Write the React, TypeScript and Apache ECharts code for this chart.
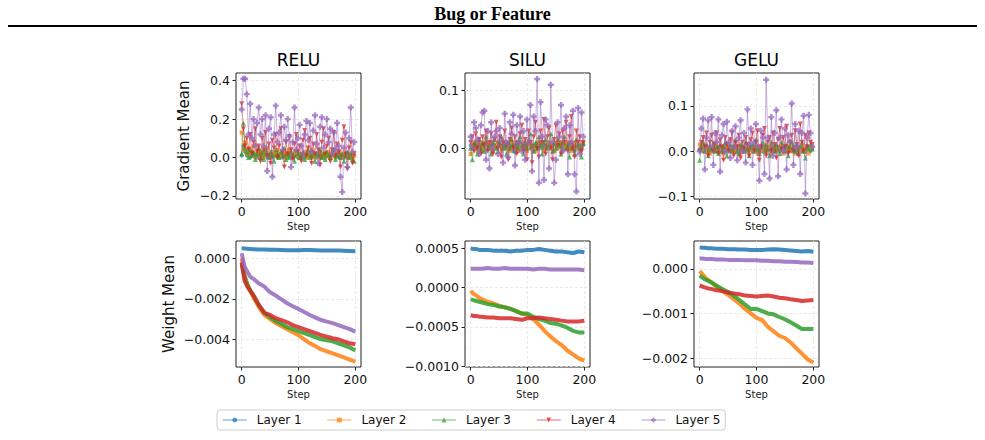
import React, { useEffect, useRef } from "react";
import * as echarts from "echarts";

const COLORS = ["#1f77b4", "#ff7f0e", "#2ca02c", "#d62728", "#9467bd"];
const LAYERS = ["Layer 1", "Layer 2", "Layer 3", "Layer 4", "Layer 5"];
const ACTIVATIONS = ["RELU", "SILU", "GELU"];
const X_TICKS = [0, 100, 200];

// gradient means, sampled every 3 steps (0..198)
const GRAD_STEPS = Array.from({ length: 67 }, (_, i) => i * 3);

const RELU_GRAD_L1 = [
  0.01, 0.06, 0.03, 0.01, 0.02, 0.0, 0.01, 0.02, 0.01, 0.0,
  0.02, 0.01, 0.0, 0.01, 0.02, 0.0, 0.01, 0.01, 0.0, 0.02,
  0.01, 0.0, 0.01, 0.02, 0.0, 0.01, 0.01, 0.0, 0.02, 0.01,
  0.0, 0.01, 0.01, 0.0, 0.02, 0.01, 0.0, 0.01, 0.0, 0.01,
  0.02, 0.0, 0.01, 0.01, 0.0, 0.01, 0.02, 0.0, 0.01, 0.0,
  0.01, 0.01, 0.0, 0.02, 0.01, 0.0, 0.01, 0.0, 0.01, 0.01,
  0.0, 0.02, 0.01, 0.0, 0.01, 0.0, 0.01,
];
const RELU_GRAD_L2 = [
  0.13, 0.04, 0.08, 0.02, 0.05, 0.01, 0.03, 0.06, 0.0, 0.02,
  0.04, 0.01, 0.03, 0.0, 0.02, 0.05, 0.01, 0.0, 0.03, 0.02,
  0.01, 0.04, 0.0, 0.02, 0.01, 0.03, 0.0, 0.02, 0.04, 0.01,
  0.0, 0.02, 0.03, 0.01, 0.0, 0.02, 0.01, 0.03, 0.0, 0.02,
  0.01, 0.04, 0.0, 0.01, 0.02, 0.0, 0.03, 0.01, 0.02, 0.0,
  0.01, 0.03, 0.0, 0.02, 0.01, 0.0, 0.02, 0.03, 0.01, 0.0,
  0.02, 0.01, 0.0, 0.02, 0.01, 0.0, 0.01,
];
const RELU_GRAD_L3 = [
  0.02, 0.18, 0.05, 0.03, 0.0, 0.04, 0.01, 0.03, -0.01, 0.02,
  0.05, 0.0, 0.03, -0.01, 0.04, 0.02, 0.0, 0.03, 0.01, -0.02,
  0.04, 0.02, 0.0, 0.03, 0.01, 0.05, -0.01, 0.02, 0.0, 0.03,
  0.01, -0.02, 0.04, 0.02, 0.0, 0.01, 0.03, -0.01, 0.02, 0.04,
  0.0, 0.01, 0.03, -0.02, 0.02, 0.01, 0.04, 0.0, 0.02, -0.01,
  0.03, 0.01, 0.0, 0.02, 0.04, -0.01, 0.01, 0.03, 0.0, 0.02,
  -0.02, 0.01, 0.03, 0.0, 0.02, -0.01, -0.02,
];
const RELU_GRAD_L4 = [
  0.28, 0.15, 0.06, 0.1, 0.04, 0.12, 0.02, 0.08, 0.15, 0.03,
  0.06, -0.02, 0.1, 0.04, 0.13, 0.01, 0.07, -0.03, 0.09, 0.05,
  0.12, 0.0, 0.06, 0.15, 0.03, -0.05, 0.08, 0.02, 0.11, 0.04,
  -0.01, 0.07, 0.12, 0.03, 0.06, -0.02, 0.09, 0.14, 0.01, 0.05,
  0.1, -0.03, 0.07, 0.02, 0.12, 0.04, -0.04, 0.08, 0.15, 0.02,
  0.06, 0.1, -0.02, 0.04, 0.13, 0.01, 0.07, 0.03, -0.05, 0.09,
  0.16, 0.02, -0.06, 0.05, 0.08, -0.03, 0.02,
];
const RELU_GRAD_L5 = [
  0.25, 0.41, 0.41, 0.33, 0.12, 0.28, 0.1, 0.2, 0.06, 0.18,
  0.26, 0.12, 0.2, 0.06, 0.22, -0.07, 0.15, 0.21, -0.1, 0.12,
  0.27, 0.08, 0.13, 0.22, 0.04, 0.16, 0.09, 0.2, 0.11, -0.05,
  0.08, 0.26, 0.04, 0.1, 0.17, 0.06, 0.02, 0.12, 0.19, 0.09,
  0.18, 0.03, 0.14, 0.22, 0.07, -0.03, 0.16, 0.21, 0.05, 0.12,
  0.2, 0.08, 0.15, 0.02, 0.13, 0.04, 0.18, 0.06, -0.1, -0.18,
  0.05, 0.13, -0.05, 0.1, 0.26, 0.03, 0.08,
];

const SILU_GRAD_L1 = [
  0.005, 0.0, 0.005, 0.01, 0.0, 0.005, -0.005, 0.005, 0.0, 0.01,
  0.005, 0.0, 0.005, -0.005, 0.005, 0.0, 0.01, 0.005, 0.0, 0.005,
  0.0, 0.005, 0.01, 0.0, 0.005, -0.005, 0.005, 0.0, 0.005, 0.01,
  0.0, 0.005, 0.0, 0.005, 0.01, 0.0, 0.005, -0.005, 0.005, 0.0,
  0.01, 0.005, 0.0, 0.005, 0.0, 0.005, 0.01, 0.0, 0.005, -0.005,
  0.005, 0.0, 0.005, 0.01, 0.0, 0.005, 0.0, 0.005, 0.01, 0.0,
  0.005, -0.005, 0.005, 0.0, 0.005, 0.0, 0.005,
];
const SILU_GRAD_L2 = [
  -0.01, 0.005, 0.0, 0.01, -0.005, 0.005, 0.01, 0.0, -0.005, 0.01,
  0.005, 0.0, 0.01, -0.005, 0.005, 0.0, 0.01, 0.005, -0.005, 0.0,
  0.01, 0.005, 0.0, -0.005, 0.01, 0.0, 0.005, 0.01, -0.005, 0.0,
  0.005, 0.01, 0.0, -0.005, 0.005, 0.01, 0.0, 0.005, -0.005, 0.01,
  0.0, 0.005, 0.01, -0.005, 0.0, 0.005, 0.01, 0.0, 0.005, -0.005,
  0.01, 0.0, 0.005, 0.01, -0.005, 0.0, 0.005, 0.01, 0.0, -0.005,
  0.005, 0.01, 0.0, 0.005, -0.005, 0.0, 0.01,
];
const SILU_GRAD_L3 = [
  0.0, -0.02, 0.01, 0.005, -0.01, 0.015, 0.0, 0.01, -0.005, 0.02,
  0.0, 0.005, -0.01, 0.01, 0.015, 0.0, -0.005, 0.01, 0.02, 0.0,
  0.005, -0.01, 0.01, 0.0, 0.015, 0.005, -0.005, 0.01, 0.0, 0.02,
  0.005, -0.01, 0.01, 0.0, 0.015, 0.025, 0.005, -0.005, 0.01, 0.0,
  0.02, 0.005, -0.01, 0.01, 0.015, 0.0, 0.005, 0.025, -0.005, 0.01,
  0.0, 0.015, 0.005, -0.01, 0.01, 0.02, 0.0, 0.005, -0.015, 0.01,
  0.0, -0.01, 0.015, 0.005, 0.0, -0.015, 0.01,
];
const SILU_GRAD_L4 = [
  0.01, 0.02, -0.005, 0.025, 0.0, 0.015, -0.01, 0.02, 0.005, 0.03,
  -0.005, 0.01, 0.025, -0.01, 0.015, 0.045, 0.0, 0.02, -0.015, 0.01,
  0.03, 0.005, -0.02, 0.015, 0.035, 0.0, 0.02, -0.01, 0.01, 0.025,
  0.04, -0.005, 0.015, -0.02, 0.03, 0.01, -0.025, 0.02, 0.045, 0.0,
  -0.015, 0.03, 0.01, 0.05, -0.01, 0.02, 0.035, 0.0, -0.02, 0.015,
  0.04, 0.005, 0.025, -0.01, 0.03, 0.01, 0.045, -0.005, 0.02, 0.055,
  0.0, -0.015, 0.03, 0.01, 0.02, -0.005, 0.01,
];
const SILU_GRAD_L5 = [
  0.02, 0.0, 0.045, 0.035, 0.015, -0.01, 0.04, 0.062, 0.065, -0.02,
  0.03, -0.035, 0.045, 0.0, 0.02, 0.03, -0.01, 0.035, 0.015, -0.025,
  0.06, 0.01, -0.015, 0.045, 0.025, 0.058, -0.03, 0.04, 0.01, 0.055,
  -0.005, 0.03, -0.02, 0.05, 0.01, 0.075, -0.04, 0.055, 0.03, 0.12,
  -0.06, 0.08, 0.02, -0.055, 0.05, 0.04, -0.035, 0.11, 0.01, -0.06,
  -0.02, 0.045, 0.02, 0.075, -0.005, 0.035, 0.055, -0.045, 0.04, 0.01,
  0.065, -0.045, -0.075, 0.07, -0.01, 0.062, 0.02,
];

const GELU_GRAD_L1 = [
  0.005, 0.01, 0.0, 0.005, 0.01, 0.0, 0.005, 0.0, 0.01, 0.005,
  0.0, 0.005, 0.01, 0.0, 0.005, 0.0, 0.01, 0.005, 0.0, 0.005,
  0.01, 0.0, 0.005, 0.0, 0.005, 0.01, 0.0, 0.005, 0.0, 0.01,
  0.005, 0.0, 0.005, 0.01, 0.0, 0.005, 0.0, 0.01, 0.005, 0.0,
  0.005, 0.01, 0.0, 0.005, 0.0, 0.005, 0.01, 0.0, 0.005, 0.0,
  0.01, 0.005, 0.0, 0.005, 0.0, 0.01, 0.005, 0.0, 0.005, 0.01,
  0.0, 0.005, 0.0, 0.01, 0.005, 0.0, 0.005,
];
const GELU_GRAD_L2 = [
  0.015, 0.005, 0.01, 0.0, 0.01, 0.005, -0.005, 0.01, 0.005, 0.0,
  0.01, 0.005, 0.0, 0.01, -0.005, 0.005, 0.01, 0.0, 0.005, 0.01,
  0.0, 0.005, 0.01, -0.005, 0.005, 0.0, 0.01, 0.005, 0.0, 0.01,
  0.005, 0.0, 0.01, 0.005, -0.005, 0.01, 0.0, 0.005, 0.01, 0.0,
  0.005, 0.01, -0.005, 0.0, 0.01, 0.005, 0.0, 0.01, 0.005, -0.005,
  0.01, 0.0, 0.005, 0.01, 0.0, 0.005, -0.005, 0.01, 0.005, 0.0,
  0.01, 0.005, 0.0, 0.01, -0.005, 0.005, 0.01,
];
const GELU_GRAD_L3 = [
  -0.02, 0.01, 0.02, 0.0, 0.015, -0.01, 0.01, 0.005, 0.02, 0.0,
  0.01, -0.005, 0.015, 0.0, 0.01, 0.02, -0.01, 0.005, 0.015, 0.0,
  0.01, 0.025, 0.0, -0.005, 0.015, 0.01, 0.0, 0.02, 0.005, -0.01,
  0.01, 0.015, 0.0, 0.025, 0.005, -0.005, 0.01, 0.02, 0.0, 0.015,
  0.005, -0.01, 0.02, 0.01, 0.0, 0.015, 0.005, -0.005, 0.02, 0.01,
  0.0, 0.015, -0.01, 0.01, 0.02, 0.005, 0.0, 0.015, -0.005, 0.01,
  0.02, 0.0, -0.015, 0.01, 0.005, 0.015, 0.005,
];
const GELU_GRAD_L4 = [
  0.0, 0.02, 0.03, 0.01, 0.04, -0.01, 0.02, 0.035, 0.0, 0.015,
  0.04, -0.005, 0.025, 0.01, -0.02, 0.03, 0.015, 0.0, 0.025, 0.04,
  -0.01, 0.02, 0.01, 0.035, -0.015, 0.02, 0.005, 0.03, 0.015, -0.01,
  0.025, 0.04, 0.0, 0.02, 0.045, -0.02, 0.01, 0.035, 0.05, -0.01,
  0.02, 0.03, 0.0, 0.04, 0.015, -0.015, 0.025, 0.05, 0.005, 0.03,
  0.01, 0.055, -0.005, 0.02, 0.035, 0.0, 0.045, 0.015, -0.01, 0.06,
  0.02, 0.0, 0.035, 0.01, 0.04, 0.02, 0.015,
];
const GELU_GRAD_L5 = [
  0.0, 0.05, 0.072, -0.04, 0.03, 0.068, 0.01, 0.075, -0.03, 0.04,
  0.02, 0.07, -0.045, 0.035, 0.06, 0.0, 0.065, 0.02, -0.015, 0.045,
  0.01, 0.055, -0.02, 0.03, 0.068, 0.0, 0.04, -0.025, 0.092, 0.015,
  0.05, -0.03, 0.02, 0.06, 0.01, -0.065, 0.045, 0.03, -0.05, 0.157,
  0.03, -0.06, 0.075, -0.01, 0.04, 0.09, -0.055, 0.03, 0.07, 0.0,
  0.05, -0.04, 0.035, 0.02, 0.105, -0.03, 0.06, 0.01, 0.045, -0.05,
  0.04, 0.078, -0.093, 0.03, 0.08, 0.04, 0.01,
];

// weight means
const WEIGHT_STEPS = [0, 5, 10, 15, 20, 30, 40, 50, 60, 70, 80, 90, 100, 110, 120, 130, 140, 150, 160, 170, 180, 190, 200];

const RELU_W_L1 = [0.0005, 0.00049, 0.00047, 0.00046, 0.00045, 0.00044, 0.00043, 0.00042, 0.00042, 0.00041, 0.0004, 0.0004, 0.0004, 0.00041, 0.00041, 0.0004, 0.00039, 0.00039, 0.00038, 0.00038, 0.00037, 0.00036, 0.00035];
const RELU_W_L2 = [0.0, -0.0008, -0.0013, -0.0016, -0.0019, -0.0024, -0.0028, -0.003, -0.0032, -0.00335, -0.0035, -0.00365, -0.0038, -0.004, -0.0042, -0.00435, -0.0045, -0.0046, -0.0047, -0.0048, -0.0049, -0.005, -0.0051];
const RELU_W_L3 = [-0.0003, -0.0009, -0.0013, -0.0016, -0.0018, -0.0023, -0.0027, -0.0029, -0.0031, -0.00325, -0.0034, -0.0035, -0.0036, -0.0037, -0.0038, -0.0039, -0.004, -0.00405, -0.0041, -0.0042, -0.0043, -0.0044, -0.00455];
const RELU_W_L4 = [-0.0002, -0.0011, -0.0014, -0.0016, -0.0018, -0.0023, -0.0027, -0.0028, -0.00296, -0.00305, -0.00316, -0.0033, -0.0034, -0.0035, -0.0036, -0.0037, -0.0038, -0.00387, -0.00395, -0.004, -0.0041, -0.0042, -0.00425];
const RELU_W_L5 = [0.00025, -0.0004, -0.00066, -0.0009, -0.001, -0.00123, -0.0014, -0.00168, -0.00184, -0.00203, -0.00222, -0.00237, -0.0025, -0.00265, -0.0028, -0.00293, -0.00305, -0.00313, -0.0032, -0.0033, -0.0034, -0.0035, -0.00362];

const SILU_W_L1 = [0.0005, 0.00049, 0.00049, 0.00048, 0.00048, 0.00048, 0.00047, 0.00047, 0.00047, 0.00046, 0.00047, 0.00047, 0.00048, 0.00048, 0.00049, 0.00048, 0.00047, 0.00046, 0.00046, 0.00045, 0.00044, 0.00046, 0.00045];
const SILU_W_L2 = [-0.00004, -0.00008, -0.0001, -0.00013, -0.00015, -0.00018, -0.0002, -0.00023, -0.00025, -0.00027, -0.0003, -0.00033, -0.00035, -0.0004, -0.00047, -0.00055, -0.00062, -0.00068, -0.00073, -0.0008, -0.00085, -0.0009, -0.00093];
const SILU_W_L3 = [-0.00015, -0.00016, -0.00017, -0.00018, -0.00019, -0.00021, -0.00022, -0.00024, -0.00025, -0.00027, -0.0003, -0.00033, -0.00033, -0.00037, -0.0004, -0.00042, -0.00045, -0.00046, -0.00048, -0.00051, -0.00055, -0.00057, -0.00057];
const SILU_W_L4 = [-0.00035, -0.00036, -0.00036, -0.00037, -0.00037, -0.00038, -0.00038, -0.00039, -0.00039, -0.00039, -0.0004, -0.00041, -0.00039, -0.00039, -0.00038, -0.00039, -0.0004, -0.00041, -0.00042, -0.00043, -0.00043, -0.00043, -0.00042];
const SILU_W_L5 = [0.00024, 0.00024, 0.00024, 0.00024, 0.00024, 0.00025, 0.00024, 0.00024, 0.00025, 0.00024, 0.00024, 0.00024, 0.00024, 0.00023, 0.00024, 0.00024, 0.00023, 0.00023, 0.00023, 0.00023, 0.00023, 0.00023, 0.00022];

const GELU_W_L1 = [0.00048, 0.00047, 0.00047, 0.00046, 0.00046, 0.00045, 0.00045, 0.00044, 0.00044, 0.00043, 0.00043, 0.00042, 0.00042, 0.00042, 0.00043, 0.00044, 0.00043, 0.00042, 0.00041, 0.0004, 0.00039, 0.0004, 0.00038];
const GELU_W_L2 = [-0.00005, -0.00012, -0.0002, -0.00025, -0.0003, -0.0004, -0.0005, -0.00058, -0.00068, -0.00078, -0.0009, -0.001, -0.0011, -0.00115, -0.0013, -0.0014, -0.0015, -0.00155, -0.00165, -0.00178, -0.0019, -0.00203, -0.0021];
const GELU_W_L3 = [-0.00015, -0.0002, -0.00024, -0.00027, -0.0003, -0.00038, -0.00045, -0.00052, -0.0006, -0.0007, -0.0008, -0.0009, -0.0009, -0.00095, -0.001, -0.00102, -0.00108, -0.00113, -0.0012, -0.00127, -0.00135, -0.00135, -0.00135];
const GELU_W_L4 = [-0.00037, -0.0004, -0.00042, -0.00044, -0.00045, -0.00048, -0.0005, -0.00053, -0.00055, -0.00057, -0.0006, -0.00061, -0.00062, -0.00061, -0.0006, -0.00062, -0.00065, -0.00066, -0.00068, -0.0007, -0.00072, -0.00071, -0.0007];
const GELU_W_L5 = [0.00023, 0.00023, 0.00022, 0.00022, 0.00022, 0.00021, 0.00021, 0.0002, 0.0002, 0.0002, 0.00019, 0.00019, 0.00019, 0.00018, 0.00018, 0.00017, 0.00017, 0.00016, 0.00016, 0.00015, 0.00014, 0.00014, 0.00013];

const GRAD_DATA = [
  [RELU_GRAD_L1, RELU_GRAD_L2, RELU_GRAD_L3, RELU_GRAD_L4, RELU_GRAD_L5],
  [SILU_GRAD_L1, SILU_GRAD_L2, SILU_GRAD_L3, SILU_GRAD_L4, SILU_GRAD_L5],
  [GELU_GRAD_L1, GELU_GRAD_L2, GELU_GRAD_L3, GELU_GRAD_L4, GELU_GRAD_L5],
];
const WEIGHT_DATA = [
  [RELU_W_L1, RELU_W_L2, RELU_W_L3, RELU_W_L4, RELU_W_L5],
  [SILU_W_L1, SILU_W_L2, SILU_W_L3, SILU_W_L4, SILU_W_L5],
  [GELU_W_L1, GELU_W_L2, GELU_W_L3, GELU_W_L4, GELU_W_L5],
];

// y ticks per panel: RELU/SILU/GELU gradients, then weights
const GRAD_Y_TICKS = [[-0.2, 0, 0.2, 0.4], [0, 0.1], [-0.1, 0, 0.1]];
const WEIGHT_Y_TICKS = [[-0.004, -0.002, 0], [-0.001, -0.0005, 0, 0.0005], [-0.002, -0.001, 0]];
const GRAD_Y_RANGE = [[-0.216, 0.44], [-0.088, 0.1305], [-0.105, 0.172]];
const WEIGHT_Y_RANGE = [[-0.00537, 0.000855], [-0.00101, 0.000593], [-0.0022, 0.000623]];
const GRAD_DEC = [1, 1, 1];
const WEIGHT_DEC = [3, 4, 3];

const PLUS_PATH = "path://M-1.2,-3L1.2,-3L1.2,-1.2L3,-1.2L3,1.2L1.2,1.2L1.2,3L-1.2,3L-1.2,1.2L-3,1.2L-3,-1.2L-1.2,-1.2Z";
const SYMBOLS = ["circle", "rect", "triangle", "triangle", PLUS_PATH];
const SYMBOL_ROT = [0, 0, 0, 180, 0];
const SYMBOL_SIZE = [4, 4, 5, 5, 6];

const FONT = "'DejaVu Sans', sans-serif";

const fmt = (dec: number) => (v: number) =>
  (v < -1e-12 ? "\u2212" : "") + Math.abs(v).toFixed(dec);

export default function App() {
  const ref = useRef<HTMLDivElement>(null);
  useEffect(() => {
    if (!ref.current) return;
    const chart = echarts.init(ref.current, undefined, { renderer: "svg" });

    const lefts = [236, 465, 694];
    const tops = [73, 241];
    const grids: any[] = [];
    const xAxes: any[] = [];
    const yAxes: any[] = [];
    const gradSeries: any[] = [];
    const weightSeries: any[] = [];

    for (let row = 0; row < 2; row++) {
      for (let col = 0; col < 3; col++) {
        const idx = row * 3 + col;
        grids.push({
          left: lefts[col],
          top: tops[row],
          width: 125,
          height: 126,
          show: true,
          borderColor: "#222",
          borderWidth: 1,
          backgroundColor: "transparent",
        });
        xAxes.push({
          type: "value",
          gridIndex: idx,
          min: -10,
          max: 210,
          name: "Step",
          nameLocation: "middle",
          nameGap: 22,
          nameTextStyle: { fontSize: 10, color: "#222", fontFamily: FONT },
          axisLine: { show: false, onZero: false },
          axisTick: { show: true, length: 3.5, customValues: X_TICKS, lineStyle: { color: "#222" } },
          axisLabel: { customValues: X_TICKS, fontSize: 12.5, color: "#111", margin: 6, fontFamily: FONT },
          splitLine: { show: true, lineStyle: { color: "#e4e4e4", type: [3, 2], width: 0.8 } },
        });
        const ticks = row === 0 ? GRAD_Y_TICKS[col] : WEIGHT_Y_TICKS[col];
        const range = row === 0 ? GRAD_Y_RANGE[col] : WEIGHT_Y_RANGE[col];
        const dec = row === 0 ? GRAD_DEC[col] : WEIGHT_DEC[col];
        yAxes.push({
          type: "value",
          gridIndex: idx,
          min: range[0],
          max: range[1],
          name: col === 0 ? (row === 0 ? "Gradient Mean" : "Weight Mean") : "",
          nameLocation: "middle",
          nameRotate: 90,
          nameGap: row === 0 ? 45 : 60,
          nameTextStyle: { fontSize: 15, color: "#111", fontFamily: FONT },
          axisLine: { show: false, onZero: false },
          axisTick: { show: true, length: 3.5, customValues: ticks, lineStyle: { color: "#222" } },
          axisLabel: { customValues: ticks, formatter: fmt(dec), fontSize: 12.5, color: "#111", margin: 6, fontFamily: FONT },
          splitLine: { show: true, lineStyle: { color: "#e4e4e4", type: [3, 2], width: 0.8 } },
        });

        for (let l = 0; l < 5; l++) {
          if (row === 0) {
            const vals = GRAD_DATA[col][l];
            gradSeries.push({
              type: "line",
              name: LAYERS[l],
              xAxisIndex: idx,
              yAxisIndex: idx,
              data: GRAD_STEPS.map((s, i) => [s, vals[i]]).filter((p) => p[1] !== undefined),
              symbol: SYMBOLS[l],
              symbolRotate: SYMBOL_ROT[l],
              symbolSize: SYMBOL_SIZE[l],
              showSymbol: true,
              lineStyle: { color: COLORS[l], width: 1, opacity: 0.5 },
              itemStyle: { color: COLORS[l], opacity: 0.75, borderWidth: 0 },
              emphasis: { disabled: true },
              silent: true,
              z: 2 + l,
            });
          } else {
            const vals = WEIGHT_DATA[col][l];
            weightSeries.push({
              type: "line",
              name: LAYERS[l],
              xAxisIndex: idx,
              yAxisIndex: idx,
              data: WEIGHT_STEPS.map((s, i) => [s, vals[i]]),
              symbol: "none",
              lineStyle: { color: COLORS[l], width: 4, opacity: 0.85 },
              itemStyle: { color: COLORS[l] },
              emphasis: { disabled: true },
              silent: true,
              z: 2 + l,
            });
          }
        }
      }
    }

    const graphics: any[] = [
      {
        type: "text",
        x: 492.5,
        y: 14,
        style: {
          text: "Bug or Feature",
          font: 'bold 18px "Liberation Serif"',
          fill: "#000",
          textAlign: "center",
          textVerticalAlign: "middle",
          align: "center",
          verticalAlign: "middle",
        },
      },
      {
        type: "line",
        shape: { x1: 8, y1: 26, x2: 977, y2: 26 },
        style: { stroke: "#000", lineWidth: 2 },
      },
    ];
    ACTIVATIONS.forEach((a, col) => {
      graphics.push({
        type: "text",
        x: lefts[col] + 62.5,
        y: 60,
        style: {
          text: a,
          font: `17px ${FONT}`,
          fill: "#000",
          textAlign: "center",
          textVerticalAlign: "middle",
          align: "center",
          verticalAlign: "middle",
        },
      });
    });

    chart.setOption({
      animation: false,
      textStyle: { fontFamily: FONT },
      grid: grids,
      xAxis: xAxes,
      yAxis: yAxes,
      graphic: graphics,
      legend: {
        data: LAYERS,
        left: 217,
        top: 410,
        orient: "horizontal",
        itemWidth: 24,
        itemHeight: 6,
        itemGap: 25,
        padding: [4, 5, 4, 5],
        borderColor: "#cfcfcf",
        borderWidth: 1,
        borderRadius: 3,
        selectedMode: false,
        lineStyle: { opacity: 0.45, width: 1.5 },
        textStyle: { fontSize: 12, color: "#111", fontFamily: FONT, padding: [0, 0, 0, 5] },
      },
      series: [...gradSeries, ...weightSeries],
    });
    return () => chart.dispose();
  }, []);
  return (
    <div
      ref={ref}
      style={{ position: "absolute", left: 0, top: 0, width: 985, height: 440 }}
    />
  );
}
